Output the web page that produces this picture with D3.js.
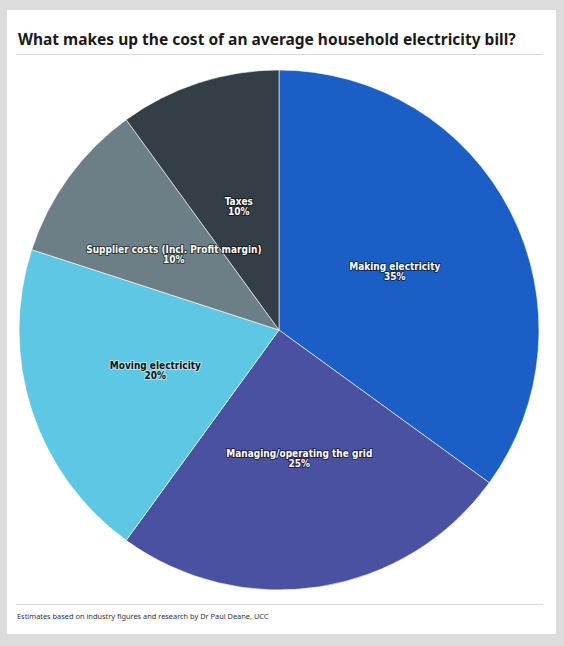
<!DOCTYPE html>
<html><head><meta charset="utf-8">
<script src="https://cdn.jsdelivr.net/npm/d3@7"></script>
<style>
html,body{margin:0;padding:0;background:#dcdcdc;}
svg{display:block;}
</style></head>
<body>
<svg id="chart" width="564" height="646"></svg>
<script>
const categories = ["Making electricity","Managing/operating the grid","Moving electricity","Supplier costs (Incl. Profit margin)","Taxes"];
const values = [35,25,20,10,10];
const colors = ["#1b5fc6","#4a51a0","#5ec8e4","#6c7f86","#333e47"];
const labelColors = ["#ffffff","#ffffff","#111111","#ffffff","#ffffff"];
const title = "What makes up the cost of an average household electricity bill?";
const footer = "Estimates based on industry figures and research by Dr Paul Deane, UCC";

const svg = d3.select("#chart");
svg.append("rect").attr("x",0).attr("y",0).attr("width",564).attr("height",646).attr("fill","#dcdcdc");
svg.append("rect").attr("x",7).attr("y",10).attr("width",549).attr("height",624).attr("fill","#ffffff");

svg.append("text").attr("x",18).attr("y",45)
  .attr("font-family","'Noto Sans', sans-serif").attr("font-weight","bold")
  .attr("font-size",15.5).attr("fill","#1a1a1a").text(title);
svg.append("line").attr("x1",16).attr("x2",543).attr("y1",54.5).attr("y2",54.5)
  .attr("stroke","#d9d9d9").attr("stroke-width",1);
svg.append("line").attr("x1",16).attr("x2",543).attr("y1",604.5).attr("y2",604.5)
  .attr("stroke","#d9d9d9").attr("stroke-width",1);
svg.append("text").attr("x",17).attr("y",619)
  .attr("font-family","'Noto Sans', sans-serif")
  .attr("font-size",7.4).attr("fill","#333").text(footer);

const cx = 279, cy = 330, r = 260;
const data = categories.map((c,i)=>({name:c,value:values[i],color:colors[i],lc:labelColors[i]}));
const pie = d3.pie().value(d=>d.value).sort(null);
const arcs = pie(data);
const arc = d3.arc().innerRadius(0).outerRadius(r);
const labelArc = d3.arc().innerRadius(r/2).outerRadius(r/2);

const g = svg.append("g").attr("transform",`translate(${cx},${cy})`);
g.selectAll("path").data(arcs).join("path")
  .attr("d",arc).attr("fill",d=>d.data.color)
  .attr("stroke","#ffffff").attr("stroke-width",0.6);

const lbl = g.selectAll("g.lbl").data(arcs).join("g").attr("class","lbl")
  .attr("transform",d=>{const [x,y]=labelArc.centroid(d);return `translate(${x},${y})`;});
const styleText = sel => sel.attr("text-anchor","middle")
  .attr("font-family","'DejaVu Sans Condensed','DejaVu Sans',sans-serif")
  .attr("font-weight","bold").attr("font-size",10)
  .attr("fill",d=>d.data.lc)
  .attr("stroke",d=>d.data.lc==="#ffffff"?"rgba(0,0,0,0.55)":"rgba(255,255,255,0.5)")
  .attr("stroke-width",2).attr("paint-order","stroke").attr("stroke-linejoin","round");
lbl.append("text").call(styleText).attr("y",-1).text(d=>d.data.name);
lbl.append("text").call(styleText).attr("y",9).text(d=>d.data.value+"%");
</script>
</body></html>
